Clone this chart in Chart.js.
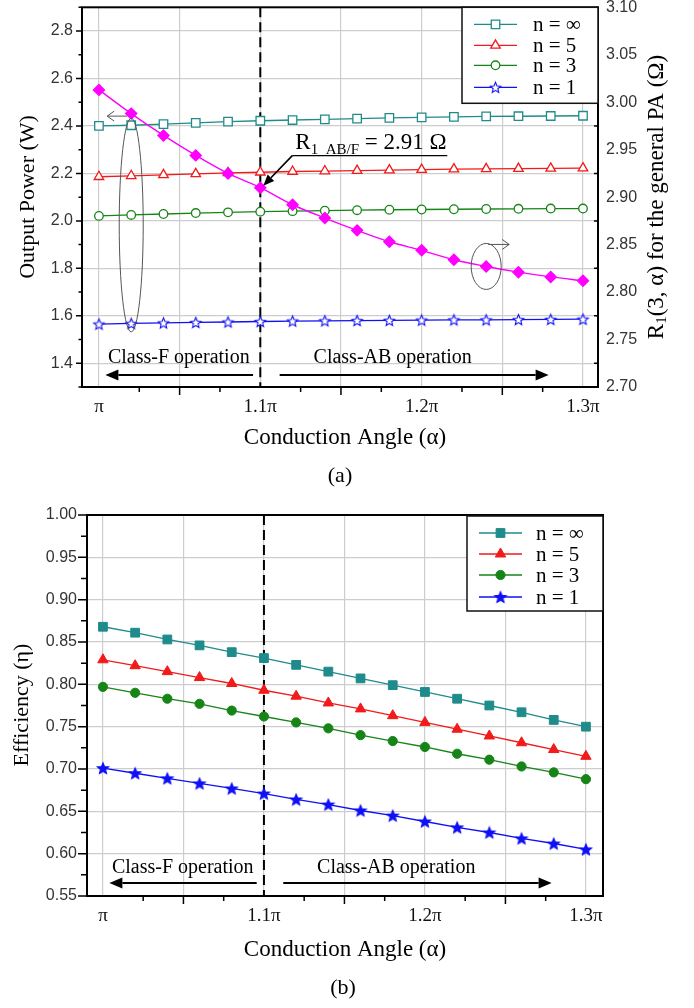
<!DOCTYPE html>
<html lang="en">
<head>
<meta charset="UTF-8">
<title>Output power and efficiency versus conduction angle</title>
<script src="https://cdn.jsdelivr.net/npm/chart.js@4.4.1/dist/chart.umd.min.js"></script>
<style>
    body { margin: 0; background: #fff; }
    #wrap { position: relative; width: 694px; height: 1008px; }
    canvas { position: absolute; left: 0; }
    #chartA { top: 0; }
    #chartB { top: 500px; }
</style>
</head>
<body>
<div id="wrap">
    <canvas id="chartA" width="694" height="500"></canvas>
    <canvas id="chartB" width="694" height="508"></canvas>
</div>
<script>
// conduction angle, in units of pi
const angle = [1.00, 1.02, 1.04, 1.06, 1.08, 1.10, 1.12, 1.14, 1.16, 1.18, 1.20, 1.22, 1.24, 1.26, 1.28, 1.30];
const seriesNames = ['n = \u221e', 'n = 5', 'n = 3', 'n = 1'];

// (a) output power (W)
const powerInf = [2.400, 2.403, 2.408, 2.413, 2.418, 2.422, 2.425, 2.428, 2.431, 2.434, 2.436, 2.438, 2.440, 2.441, 2.442, 2.443];
const powerN5  = [2.186, 2.190, 2.194, 2.198, 2.202, 2.205, 2.208, 2.210, 2.212, 2.214, 2.216, 2.218, 2.219, 2.220, 2.221, 2.222];
const powerN3  = [2.021, 2.025, 2.029, 2.033, 2.036, 2.039, 2.041, 2.043, 2.045, 2.047, 2.048, 2.049, 2.050, 2.051, 2.052, 2.052];
const powerN1  = [1.565, 1.568, 1.570, 1.572, 1.574, 1.576, 1.578, 1.579, 1.580, 1.581, 1.582, 1.583, 1.583, 1.584, 1.585, 1.586];
// (a) R1(3, alpha) of the general PA (ohm), right axis
const r1General = [3.013, 2.988, 2.965, 2.944, 2.925, 2.910, 2.892, 2.878, 2.865, 2.853, 2.844, 2.834, 2.827, 2.821, 2.816, 2.812];

// (b) drain efficiency
const effInf = [0.868, 0.861, 0.853, 0.846, 0.838, 0.831, 0.823, 0.815, 0.807, 0.799, 0.791, 0.783, 0.775, 0.767, 0.758, 0.750];
const effN5  = [0.829, 0.822, 0.815, 0.808, 0.801, 0.793, 0.786, 0.778, 0.771, 0.763, 0.755, 0.747, 0.739, 0.731, 0.723, 0.715];
const effN3  = [0.797, 0.790, 0.783, 0.777, 0.769, 0.762, 0.755, 0.748, 0.740, 0.733, 0.726, 0.718, 0.711, 0.703, 0.696, 0.688];
const effN1  = [0.701, 0.695, 0.689, 0.683, 0.677, 0.671, 0.664, 0.658, 0.651, 0.645, 0.638, 0.631, 0.625, 0.618, 0.612, 0.605];

// axis ticks
const angleGrid = [1.00, 1.05, 1.10, 1.15, 1.20, 1.25, 1.30];
const angleTickValues = [1.0, 1.1, 1.2, 1.3];
const angleTickLabels = ['\u03c0', '1.1\u03c0', '1.2\u03c0', '1.3\u03c0'];
const angleMinorLong = [1.05, 1.15, 1.25];
const angleMinorShort = [1.025, 1.075, 1.125, 1.175, 1.225, 1.275];
const powerTicks = [1.4, 1.6, 1.8, 2.0, 2.2, 2.4, 2.6, 2.8];
const powerMinor = [1.3, 1.5, 1.7, 1.9, 2.1, 2.3, 2.5, 2.7, 2.9];
const r1Ticks = [2.70, 2.75, 2.80, 2.85, 2.90, 2.95, 3.00, 3.05, 3.10];
const r1Minor = [2.725, 2.775, 2.825, 2.875, 2.925, 2.975, 3.025, 3.075];
const effTicks = [0.55, 0.60, 0.65, 0.70, 0.75, 0.80, 0.85, 0.90, 0.95, 1.00];
const effMinor = [0.575, 0.625, 0.675, 0.725, 0.775, 0.825, 0.875, 0.925, 0.975];

// the class-F / class-AB boundary and the operation arrows (angle in pi)
const boundaryAngle = 1.1;
const classFText = 1.0056, classABText = 1.133;
const classFArrow = [1.0955, 1.004];
const classABArrow = [1.112, 1.2787];

const serif = '"Liberation Serif", "Times New Roman", serif';
const sans = '"Liberation Sans", Arial, sans-serif';
const gridColor = '#cdcdcd';
const teal = '#1f8b8b', red = '#f21a1a', green = '#178417', blue = '#1010f5', magenta = '#ff00ff';

Chart.defaults.font.family = sans;

function starImage(r, filled, color) {
    const s = Math.ceil(r * 2 + 4);
    const c = document.createElement('canvas');
    c.width = s; c.height = s;
    const g = c.getContext('2d');
    g.translate(s / 2, s / 2 + r * 0.1);
    g.beginPath();
    for (let i = 0; i < 10; i++) {
        const rad = i % 2 ? r * 0.45 : r;
        const a = -Math.PI / 2 + i * Math.PI / 5;
        g.lineTo(rad * Math.cos(a), rad * Math.sin(a));
    }
    g.closePath();
    g.fillStyle = filled ? color : '#fff';
    g.fill();
    g.lineWidth = 1.1;
    g.strokeStyle = color;
    g.stroke();
    return c;
}

function series(label, ys, color, style, radius, open) {
    return {
        label: label,
        data: angle.map((a, i) => ({ x: a, y: ys[i] })),
        borderColor: color,
        backgroundColor: color,
        borderWidth: 1.3,
        pointStyle: style,
        pointRadius: radius,
        pointHoverRadius: radius,
        pointBackgroundColor: open ? '#fff' : color,
        pointBorderColor: color,
        pointBorderWidth: open ? 1.3 : 1,
        yAxisID: 'y'
    };
}

function angleLabel(v) {
    const i = angleTickValues.findIndex(t => Math.abs(t - v) < 1e-6);
    return i < 0 ? '' : angleTickLabels[i];
}

// ---------- drawing helpers ----------

function drawTicks(ctx, scale, values, len) {
    ctx.beginPath();
    values.forEach(v => {
        const p = scale.getPixelForValue(v);
        if (scale.isHorizontal()) {
            ctx.moveTo(p, scale.top); ctx.lineTo(p, scale.top + len);
        } else if (scale.position === 'left') {
            ctx.moveTo(scale.right, p); ctx.lineTo(scale.right - len, p);
        } else {
            ctx.moveTo(scale.left, p); ctx.lineTo(scale.left + len, p);
        }
    });
    ctx.stroke();
}

function arrowLine(ctx, x1, y1, x2, y2, opt) {
    const head = opt.head || 12, half = opt.half || 5;
    const a = Math.atan2(y2 - y1, x2 - x1);
    const bx = x2 - head * Math.cos(a), by = y2 - head * Math.sin(a);
    const lx = bx + half * Math.sin(a), ly = by - half * Math.cos(a);
    const rx = bx - half * Math.sin(a), ry = by + half * Math.cos(a);
    ctx.save();
    ctx.strokeStyle = opt.color || '#000';
    ctx.fillStyle = opt.color || '#000';
    ctx.lineWidth = opt.width || 2;
    ctx.beginPath();
    ctx.moveTo(x1, y1);
    ctx.lineTo(opt.open ? x2 : bx, opt.open ? y2 : by);
    ctx.stroke();
    ctx.beginPath();
    if (opt.open) {
        ctx.moveTo(lx, ly); ctx.lineTo(x2, y2); ctx.lineTo(rx, ry);
        ctx.stroke();
    } else {
        ctx.moveTo(x2, y2); ctx.lineTo(lx, ly); ctx.lineTo(rx, ry);
        ctx.closePath(); ctx.fill();
    }
    ctx.restore();
}

// parts: [text, size, baseline shift]
function richText(ctx, parts, x, y, rotate) {
    ctx.save();
    ctx.translate(x, y);
    if (rotate) ctx.rotate(-Math.PI / 2);
    ctx.fillStyle = '#000';
    ctx.textBaseline = 'middle';
    ctx.textAlign = 'left';
    let total = 0;
    parts.forEach(p => { ctx.font = p[1] + 'px ' + serif; total += ctx.measureText(p[0]).width; });
    let cx = -total / 2;
    parts.forEach(p => {
        ctx.font = p[1] + 'px ' + serif;
        ctx.fillText(p[0], cx, p[2] || 0);
        cx += ctx.measureText(p[0]).width;
    });
    ctx.restore();
}

function drawMarker(ctx, ds, x, y) {
    const st = ds.pointStyle, r = ds.pointRadius;
    if (typeof st !== 'string') {
        ctx.drawImage(st, x - st.width / 2, y - st.height / 2);
        return;
    }
    ctx.beginPath();
    if (st === 'circle') {
        ctx.arc(x, y, r, 0, Math.PI * 2);
    } else if (st === 'rect') {
        const s = r * Math.SQRT1_2;
        ctx.rect(x - s, y - s, 2 * s, 2 * s);
    } else if (st === 'triangle') {
        for (let k = 0; k < 3; k++) {
            const a = k * 2 * Math.PI / 3;
            ctx.lineTo(x + Math.sin(a) * r, y - Math.cos(a) * r);
        }
        ctx.closePath();
    }
    ctx.fillStyle = ds.pointBackgroundColor;
    ctx.fill();
    ctx.strokeStyle = ds.pointBorderColor;
    ctx.lineWidth = ds.pointBorderWidth;
    ctx.stroke();
}

function drawLegend(ctx, chart, top, height, rows, textX) {
    const ca = chart.chartArea;
    const left = ca.right - 136;
    ctx.save();
    ctx.fillStyle = '#fff';
    ctx.fillRect(left, top, ca.right - left, height);
    ctx.strokeStyle = '#111';
    ctx.lineWidth = 1.5;
    ctx.strokeRect(left, top, ca.right - left, height);
    chart.data.datasets.slice(0, 4).forEach((ds, i) => {
        const y = top + rows[i];
        ctx.strokeStyle = ds.borderColor;
        ctx.lineWidth = 1.3;
        ctx.beginPath();
        ctx.moveTo(left + 12, y); ctx.lineTo(left + 55, y);
        ctx.stroke();
        drawMarker(ctx, ds, left + 33.5, y);
        ctx.fillStyle = '#000';
        ctx.font = '21px ' + serif;
        ctx.textBaseline = 'middle';
        ctx.fillText(ds.label, left + textX, y + 1);
    });
    ctx.restore();
}

function drawOperations(ctx, chart, yText, yArrow) {
    const sx = chart.scales.x, sy = chart.scales.y;
    const ty = sy.getPixelForValue(yText), ay = sy.getPixelForValue(yArrow);
    ctx.save();
    ctx.fillStyle = '#000';
    ctx.font = '20px ' + serif;
    ctx.textBaseline = 'middle';
    ctx.textAlign = 'left';
    ctx.fillText('Class-F operation', sx.getPixelForValue(classFText), ty);
    ctx.fillText('Class-AB operation', sx.getPixelForValue(classABText), ty);
    ctx.restore();
    arrowLine(ctx, sx.getPixelForValue(classFArrow[0]), ay, sx.getPixelForValue(classFArrow[1]), ay, { head: 13, half: 5.5 });
    arrowLine(ctx, sx.getPixelForValue(classABArrow[0]), ay, sx.getPixelForValue(classABArrow[1]), ay, { head: 13, half: 5.5 });
}

function drawBoundary(chart) {
    const { ctx, chartArea: ca, scales } = chart;
    const x = scales.x.getPixelForValue(boundaryAngle);
    ctx.save();
    ctx.strokeStyle = '#000';
    ctx.lineWidth = 2;
    ctx.setLineDash([10, 5]);
    ctx.beginPath();
    ctx.moveTo(x, ca.top); ctx.lineTo(x, ca.bottom);
    ctx.stroke();
    ctx.restore();
}

function drawFrameAndTicks(chart, yMajor, yMajorLen, yMinor, yMinorLen) {
    const { ctx, chartArea: ca, scales } = chart;
    ctx.save();
    ctx.strokeStyle = '#000';
    ctx.lineWidth = 2;
    ctx.strokeRect(ca.left, ca.top, ca.right - ca.left, ca.bottom - ca.top);
    ctx.lineWidth = 1.5;
    drawTicks(ctx, scales.x, angleMinorLong, 8);
    drawTicks(ctx, scales.x, angleMinorShort, 5);
    drawTicks(ctx, scales.y, yMajor, yMajorLen);
    drawTicks(ctx, scales.y, yMinor, yMinorLen);
    ctx.restore();
}

function xScale(min, max) {
    return {
        type: 'linear',
        min: min,
        max: max,
        afterBuildTicks: s => { s.ticks = angleGrid.map(v => ({ value: v })); },
        afterFit: s => { s.height = 30; s.paddingLeft = 0; s.paddingRight = 0; },
        grid: { color: gridColor, lineWidth: 1.2, drawTicks: false },
        border: { display: false },
        ticks: {
            autoSkip: false, maxRotation: 0, padding: 9,
            color: '#111', font: { family: serif, size: 19 },
            callback: v => angleLabel(v)
        }
    };
}

function yScale(min, max, ticks, digits, width, pad, position, showGrid) {
    return {
        type: 'linear',
        position: position,
        min: min,
        max: max,
        afterBuildTicks: s => { s.ticks = ticks.map(v => ({ value: v })); },
        afterFit: s => { s.width = width; s.paddingTop = 0; s.paddingBottom = 0; },
        grid: { color: gridColor, lineWidth: 1.2, drawTicks: false, drawOnChartArea: showGrid },
        border: { display: false },
        ticks: {
            autoSkip: false, padding: pad,
            color: '#333', font: { family: sans, size: 16 },
            callback: v => v.toFixed(digits)
        }
    };
}

// ---------- (a) output power and R1 ----------

const r1Series = {
    label: 'R1',
    data: angle.map((a, i) => ({ x: a, y: r1General[i] })),
    borderColor: magenta,
    backgroundColor: magenta,
    borderWidth: 1.4,
    pointStyle: 'rectRot',
    pointRadius: 5.5,
    pointHoverRadius: 5.5,
    pointBackgroundColor: magenta,
    pointBorderColor: magenta,
    cubicInterpolationMode: 'monotone',
    yAxisID: 'y1',
    order: -1
};

const decorA = {
    id: 'decorA',
    beforeDatasetsDraw: chart => drawBoundary(chart),
    afterDraw(chart) {
        const { ctx, scales } = chart;
        const sx = scales.x, sy = scales.y, sr = scales.y1;
        drawFrameAndTicks(chart, powerTicks, 6, powerMinor, 3.5);
        ctx.save();
        ctx.strokeStyle = '#000';
        ctx.lineWidth = 1.5;
        drawTicks(ctx, sr, r1Minor, -4);
        ctx.restore();

        drawOperations(ctx, chart, 1.422, 1.3505);

        // R1 value at the class-F / class-AB boundary
        const bi = angle.indexOf(boundaryAngle);
        const px = sx.getPixelForValue(angle[bi]), py = sr.getPixelForValue(r1General[bi]);
        const tipX = px + 3, tipY = py - 2;
        const elbowX = tipX + 29, elbowY = tipY - 30;
        ctx.save();
        ctx.strokeStyle = '#000';
        ctx.lineWidth = 1.4;
        ctx.beginPath();
        ctx.moveTo(elbowX + 155, elbowY); ctx.lineTo(elbowX, elbowY);
        ctx.stroke();
        ctx.restore();
        arrowLine(ctx, elbowX, elbowY, tipX, tipY, { head: 11, half: 4.5, width: 1.6 });
        ctx.save();
        ctx.fillStyle = '#000';
        ctx.textBaseline = 'alphabetic';
        ctx.textAlign = 'left';
        let tx = elbowX + 3;
        const by = elbowY - 7;
        ctx.font = '23px ' + serif;
        ctx.fillText('R', tx, by); tx += ctx.measureText('R').width;
        ctx.font = '15px ' + serif;
        ctx.fillText('1_AB/F', tx, by + 5); tx += ctx.measureText('1_AB/F').width;
        ctx.font = '23px ' + serif;
        ctx.fillText(' = ' + r1General[bi].toFixed(2) + ' \u03a9', tx, by);
        ctx.restore();

        // ellipse around the power curves, pointing to the left axis
        const ex = sx.getPixelForValue(1.02);
        const eTop = sy.getPixelForValue(2.433), eBot = sy.getPixelForValue(1.532);
        ctx.save();
        ctx.strokeStyle = '#555';
        ctx.lineWidth = 1;
        ctx.beginPath();
        ctx.ellipse(ex, (eTop + eBot) / 2, 12, (eBot - eTop) / 2, 0, 0, Math.PI * 2);
        ctx.stroke();
        ctx.restore();
        arrowLine(ctx, ex - 4, eTop - 2, ex - 24, eTop - 2, { open: true, head: 7, half: 5, width: 1, color: '#555' });

        // ellipse around the R1 curve, pointing to the right axis
        const rx = sx.getPixelForValue(angle[12]), ry = sr.getPixelForValue(r1General[12]);
        ctx.save();
        ctx.strokeStyle = '#555';
        ctx.lineWidth = 1;
        ctx.beginPath();
        ctx.ellipse(rx, ry, 15, 23, 0, 0, Math.PI * 2);
        ctx.stroke();
        ctx.restore();
        arrowLine(ctx, rx + 2, ry - 22, rx + 23, ry - 22, { open: true, head: 7, half: 5, width: 1, color: '#555' });

        drawLegend(ctx, chart, chart.chartArea.top, 96, [17, 38, 58, 80], 71);

        // axis titles
        richText(ctx, [['Output Power (W)', 22]], 28, 197, true);
        richText(ctx, [['R', 23], ['1', 15, 5], ['(3, \u03b1) for the general PA (\u03a9)', 23]], 657, 197, true);
        richText(ctx, [['Conduction Angle (\u03b1)', 23]], 345, 438, false);
        richText(ctx, [['(a)', 22]], 340, 476, false);
    }
};

new Chart(document.getElementById('chartA'), {
    type: 'line',
    data: {
        datasets: [
            series(seriesNames[0], powerInf, teal, 'rect', 6, true),
            series(seriesNames[1], powerN5, red, 'triangle', 5.5, true),
            series(seriesNames[2], powerN3, green, 'circle', 4.3, true),
            series(seriesNames[3], powerN1, blue, starImage(5.5, false, blue), 5.5, true),
            r1Series
        ]
    },
    options: {
        responsive: false,
        animation: false,
        layout: { padding: { top: 7, left: 0, right: 0, bottom: 83 } },
        plugins: { legend: { display: false }, tooltip: { enabled: false } },
        scales: {
            x: xScale(0.9895, 1.3093),
            y: yScale(1.3, 2.9, powerTicks, 1, 82, 9, 'left', true),
            y1: yScale(2.70, 3.10, r1Ticks, 2, 96, 8, 'right', false)
        }
    },
    plugins: [decorA]
});

// ---------- (b) efficiency ----------

const decorB = {
    id: 'decorB',
    beforeDatasetsDraw: chart => drawBoundary(chart),
    afterDraw(chart) {
        const ctx = chart.ctx;
        drawFrameAndTicks(chart, effTicks, 9, effMinor, 6);
        drawOperations(ctx, chart, 0.583, 0.5654);
        drawLegend(ctx, chart, chart.chartArea.top + 1, 95, [17, 38, 59, 81], 69);
        richText(ctx, [['Efficiency (\u03b7)', 22]], 22, 205, true);
        richText(ctx, [['Conduction Angle (\u03b1)', 23]], 345, 450, false);
        richText(ctx, [['(b)', 22]], 343, 488, false);
    }
};

new Chart(document.getElementById('chartB'), {
    type: 'line',
    data: {
        datasets: [
            series(seriesNames[0], effInf, teal, 'rect', 6.2, false),
            series(seriesNames[1], effN5, red, 'triangle', 6, false),
            series(seriesNames[2], effN3, green, 'circle', 4.6, false),
            series(seriesNames[3], effN1, blue, starImage(6, true, blue), 6, false)
        ]
    },
    options: {
        responsive: false,
        animation: false,
        layout: { padding: { top: 15, left: 0, right: 91, bottom: 82 } },
        plugins: { legend: { display: false }, tooltip: { enabled: false } },
        scales: {
            x: xScale(0.9901, 1.3106),
            y: yScale(0.55, 1.00, effTicks, 2, 87, 10, 'left', true)
        }
    },
    plugins: [decorB]
});
</script>
</body>
</html>
